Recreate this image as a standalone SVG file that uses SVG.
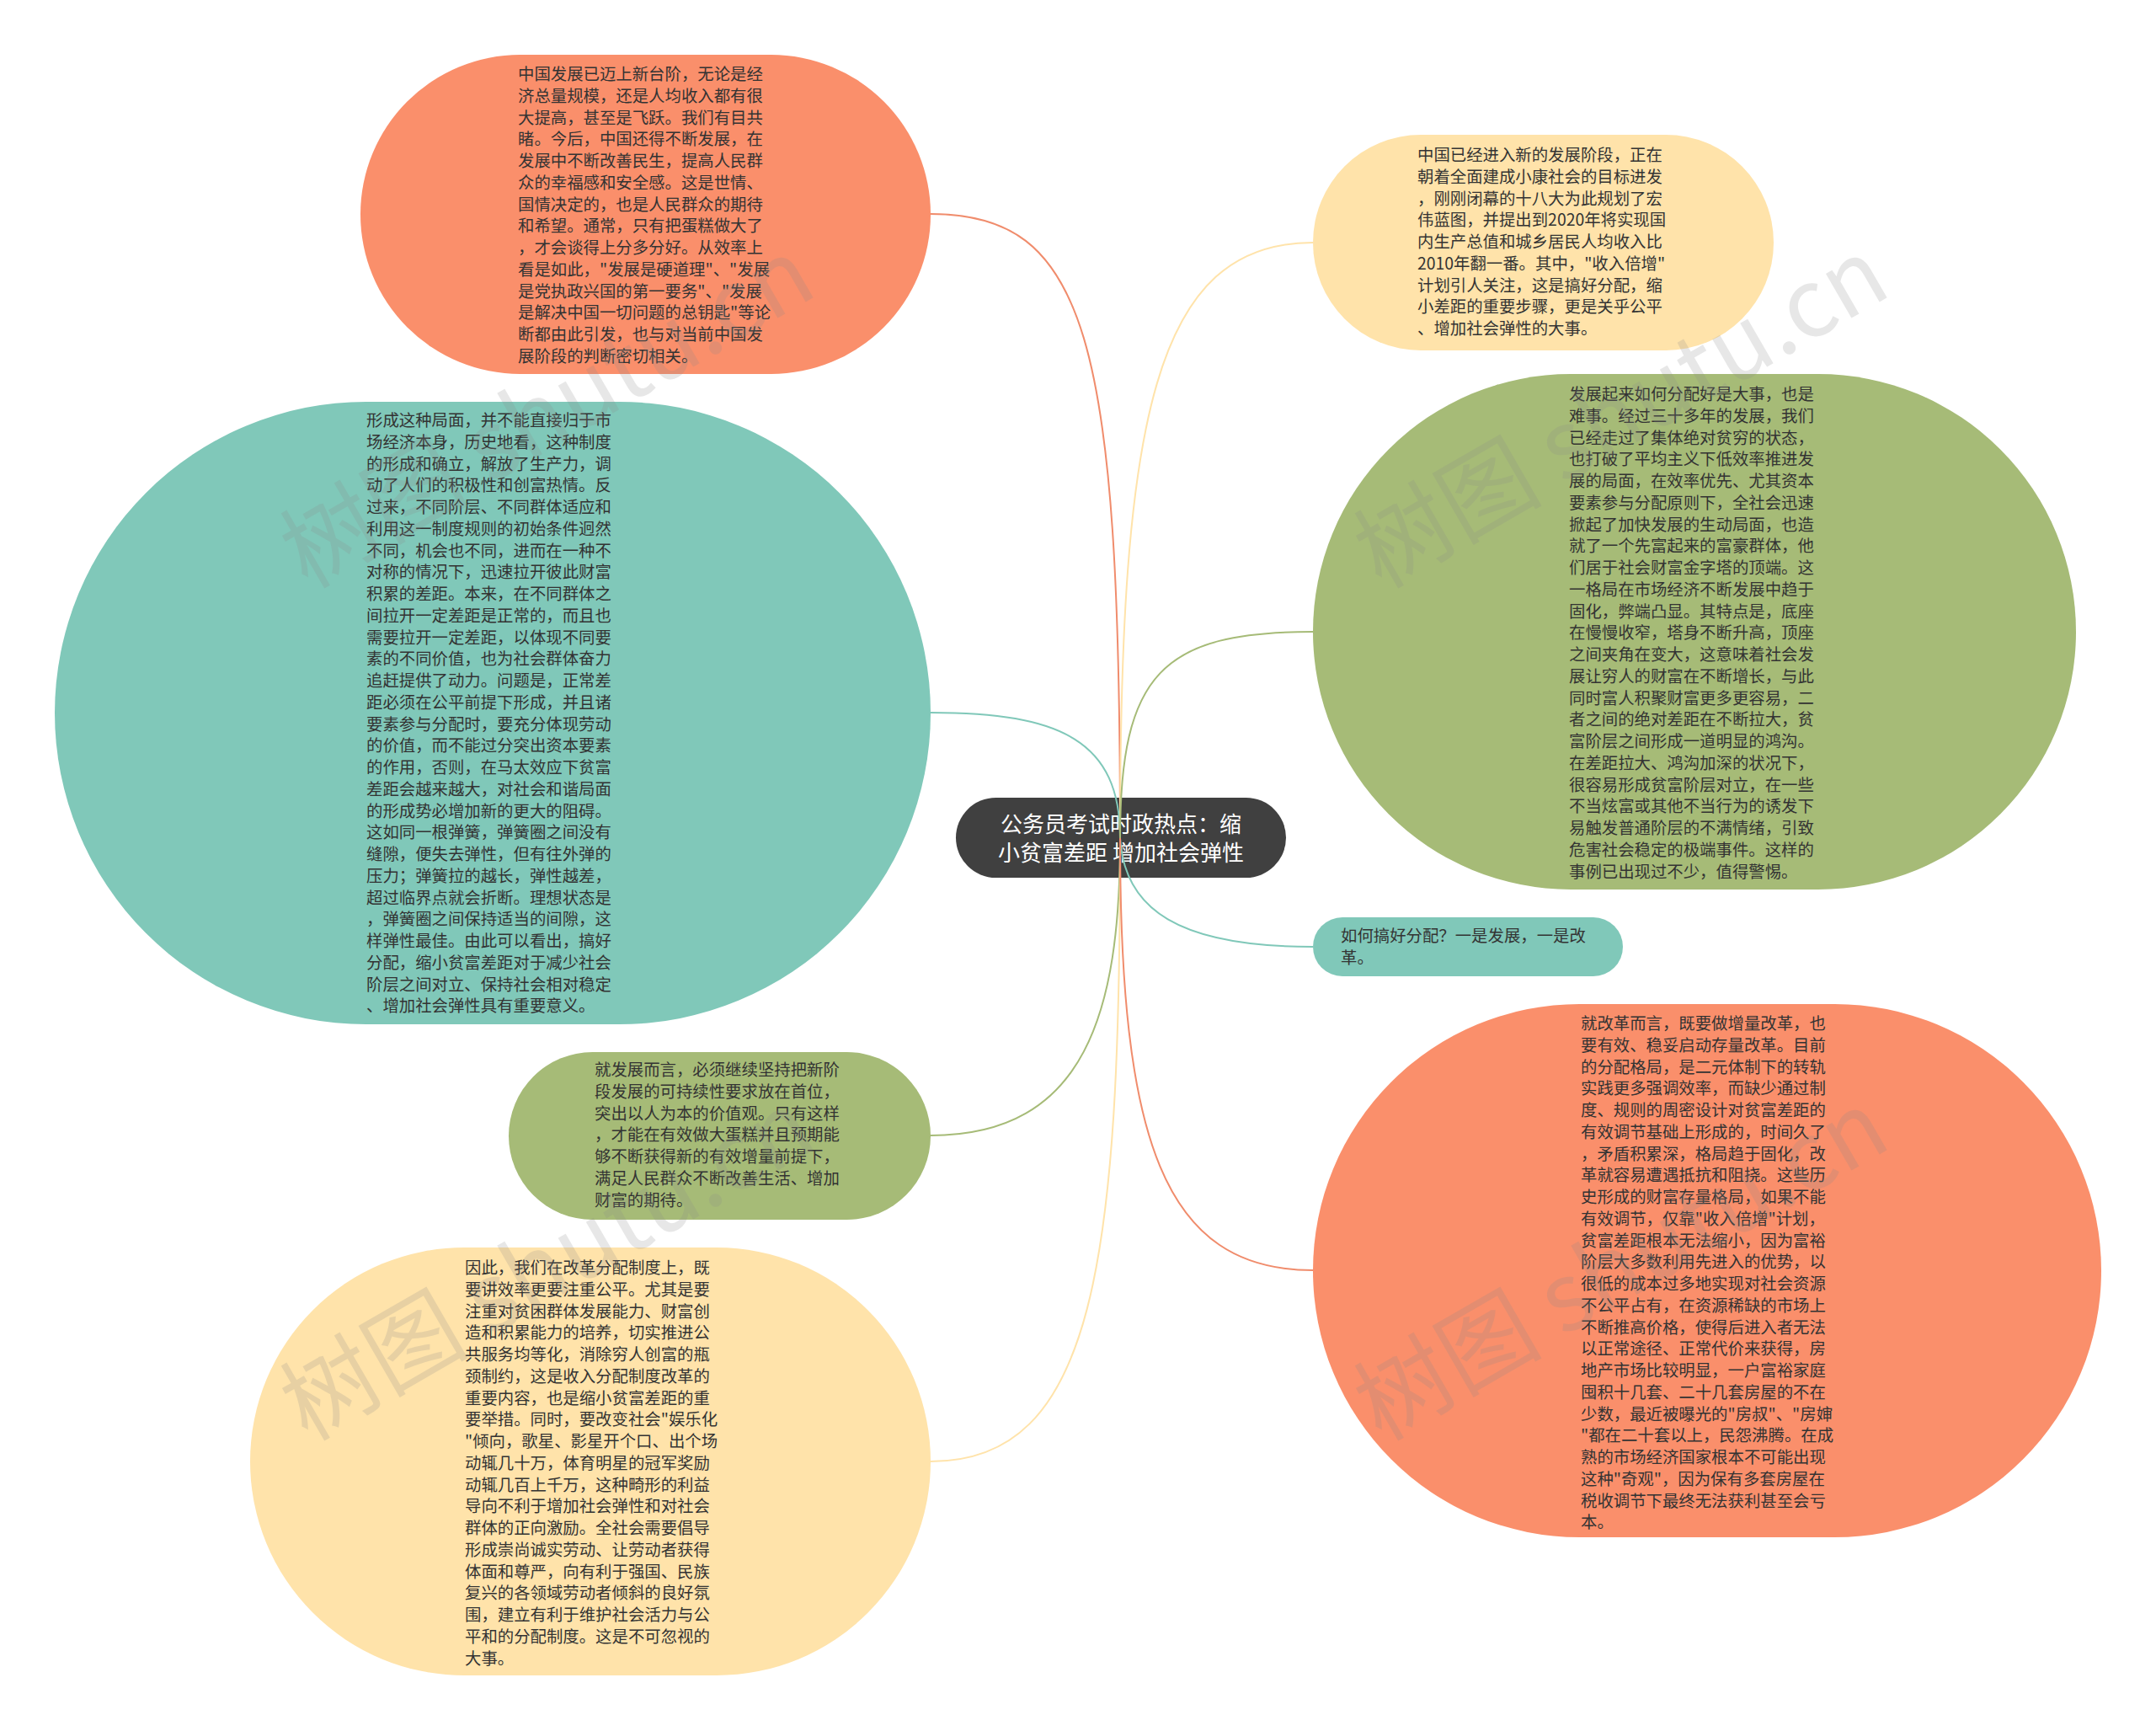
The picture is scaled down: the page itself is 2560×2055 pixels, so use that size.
<svg xmlns="http://www.w3.org/2000/svg" width="2560" height="2055" viewBox="0 0 2560 2055">
<style>
.t{font-family:"Noto Sans CJK SC","Noto Sans",sans-serif;font-size:19.4px;fill:#333333}
.c{font-family:"Noto Sans CJK SC","Noto Sans",sans-serif;font-size:26px;fill:#ffffff;text-anchor:middle}
.or{fill:#FA8F6B}.te{fill:#80C8B9}.gr{fill:#A6BB77}.ye{fill:#FFE3AA}.dk{fill:#404040}
.ln{fill:none;stroke-width:2}
.wm{font-family:"Noto Sans CJK SC","Liberation Serif",serif;font-size:112px;fill:#8a8a8a;opacity:0.2}
</style>
<rect width="2560" height="2055" fill="#ffffff"/>
<g id="node-n1"><rect class="or" x="428" y="65" width="677" height="379" rx="189.5"/>
<text class="t" x="615" y="95"><tspan x="615">中国发展已迈上新台阶，无论是经</tspan><tspan x="615" dy="25.75">济总量规模，还是人均收入都有很</tspan><tspan x="615" dy="25.75">大提高，甚至是飞跃。我们有目共</tspan><tspan x="615" dy="25.75">睹。今后，中国还得不断发展，在</tspan><tspan x="615" dy="25.75">发展中不断改善民生，提高人民群</tspan><tspan x="615" dy="25.75">众的幸福感和安全感。这是世情、</tspan><tspan x="615" dy="25.75">国情决定的，也是人民群众的期待</tspan><tspan x="615" dy="25.75">和希望。通常，只有把蛋糕做大了</tspan><tspan x="615" dy="25.75">，才会谈得上分多分好。从效率上</tspan><tspan x="615" dy="25.75">看是如此，"发展是硬道理"、"发展</tspan><tspan x="615" dy="25.75">是党执政兴国的第一要务"、"发展</tspan><tspan x="615" dy="25.75">是解决中国一切问题的总钥匙"等论</tspan><tspan x="615" dy="25.75">断都由此引发，也与对当前中国发</tspan><tspan x="615" dy="25.75">展阶段的判断密切相关。</tspan></text></g>
<g id="node-n2"><rect class="te" x="65" y="477" width="1040" height="739" rx="369.5"/>
<text class="t" x="435" y="506"><tspan x="435">形成这种局面，并不能直接归于市</tspan><tspan x="435" dy="25.75">场经济本身，历史地看，这种制度</tspan><tspan x="435" dy="25.75">的形成和确立，解放了生产力，调</tspan><tspan x="435" dy="25.75">动了人们的积极性和创富热情。反</tspan><tspan x="435" dy="25.75">过来，不同阶层、不同群体适应和</tspan><tspan x="435" dy="25.75">利用这一制度规则的初始条件迥然</tspan><tspan x="435" dy="25.75">不同，机会也不同，进而在一种不</tspan><tspan x="435" dy="25.75">对称的情况下，迅速拉开彼此财富</tspan><tspan x="435" dy="25.75">积累的差距。本来，在不同群体之</tspan><tspan x="435" dy="25.75">间拉开一定差距是正常的，而且也</tspan><tspan x="435" dy="25.75">需要拉开一定差距，以体现不同要</tspan><tspan x="435" dy="25.75">素的不同价值，也为社会群体奋力</tspan><tspan x="435" dy="25.75">追赶提供了动力。问题是，正常差</tspan><tspan x="435" dy="25.75">距必须在公平前提下形成，并且诸</tspan><tspan x="435" dy="25.75">要素参与分配时，要充分体现劳动</tspan><tspan x="435" dy="25.75">的价值，而不能过分突出资本要素</tspan><tspan x="435" dy="25.75">的作用，否则，在马太效应下贫富</tspan><tspan x="435" dy="25.75">差距会越来越大，对社会和谐局面</tspan><tspan x="435" dy="25.75">的形成势必增加新的更大的阻碍。</tspan><tspan x="435" dy="25.75">这如同一根弹簧，弹簧圈之间没有</tspan><tspan x="435" dy="25.75">缝隙，便失去弹性，但有往外弹的</tspan><tspan x="435" dy="25.75">压力；弹簧拉的越长，弹性越差，</tspan><tspan x="435" dy="25.75">超过临界点就会折断。理想状态是</tspan><tspan x="435" dy="25.75">，弹簧圈之间保持适当的间隙，这</tspan><tspan x="435" dy="25.75">样弹性最佳。由此可以看出，搞好</tspan><tspan x="435" dy="25.75">分配，缩小贫富差距对于减少社会</tspan><tspan x="435" dy="25.75">阶层之间对立、保持社会相对稳定</tspan><tspan x="435" dy="25.75">、增加社会弹性具有重要意义。</tspan></text></g>
<g id="node-n4"><rect class="gr" x="604" y="1249" width="501" height="199" rx="99.5"/>
<text class="t" x="706" y="1277"><tspan x="706">就发展而言，必须继续坚持把新阶</tspan><tspan x="706" dy="25.75">段发展的可持续性要求放在首位，</tspan><tspan x="706" dy="25.75">突出以人为本的价值观。只有这样</tspan><tspan x="706" dy="25.75">，才能在有效做大蛋糕并且预期能</tspan><tspan x="706" dy="25.75">够不断获得新的有效增量前提下，</tspan><tspan x="706" dy="25.75">满足人民群众不断改善生活、增加</tspan><tspan x="706" dy="25.75">财富的期待。</tspan></text></g>
<g id="node-n5"><rect class="ye" x="297" y="1481" width="808" height="508" rx="254"/>
<text class="t" x="552" y="1512"><tspan x="552">因此，我们在改革分配制度上，既</tspan><tspan x="552" dy="25.75">要讲效率更要注重公平。尤其是要</tspan><tspan x="552" dy="25.75">注重对贫困群体发展能力、财富创</tspan><tspan x="552" dy="25.75">造和积累能力的培养，切实推进公</tspan><tspan x="552" dy="25.75">共服务均等化，消除穷人创富的瓶</tspan><tspan x="552" dy="25.75">颈制约，这是收入分配制度改革的</tspan><tspan x="552" dy="25.75">重要内容，也是缩小贫富差距的重</tspan><tspan x="552" dy="25.75">要举措。同时，要改变社会"娱乐化</tspan><tspan x="552" dy="25.75">"倾向，歌星、影星开个口、出个场</tspan><tspan x="552" dy="25.75">动辄几十万，体育明星的冠军奖励</tspan><tspan x="552" dy="25.75">动辄几百上千万，这种畸形的利益</tspan><tspan x="552" dy="25.75">导向不利于增加社会弹性和对社会</tspan><tspan x="552" dy="25.75">群体的正向激励。全社会需要倡导</tspan><tspan x="552" dy="25.75">形成崇尚诚实劳动、让劳动者获得</tspan><tspan x="552" dy="25.75">体面和尊严，向有利于强国、民族</tspan><tspan x="552" dy="25.75">复兴的各领域劳动者倾斜的良好氛</tspan><tspan x="552" dy="25.75">围，建立有利于维护社会活力与公</tspan><tspan x="552" dy="25.75">平和的分配制度。这是不可忽视的</tspan><tspan x="552" dy="25.75">大事。</tspan></text></g>
<g id="node-n6"><rect class="ye" x="1559" y="160" width="547" height="256" rx="128"/>
<text class="t" x="1683" y="191"><tspan x="1683">中国已经进入新的发展阶段，正在</tspan><tspan x="1683" dy="25.75">朝着全面建成小康社会的目标进发</tspan><tspan x="1683" dy="25.75">，刚刚闭幕的十八大为此规划了宏</tspan><tspan x="1683" dy="25.75">伟蓝图，并提出到2020年将实现国</tspan><tspan x="1683" dy="25.75">内生产总值和城乡居民人均收入比</tspan><tspan x="1683" dy="25.75">2010年翻一番。其中，"收入倍增"</tspan><tspan x="1683" dy="25.75">计划引人关注，这是搞好分配，缩</tspan><tspan x="1683" dy="25.75">小差距的重要步骤，更是关乎公平</tspan><tspan x="1683" dy="25.75">、增加社会弹性的大事。</tspan></text></g>
<g id="node-n7"><rect class="gr" x="1559" y="444" width="906" height="612" rx="306"/>
<text class="t" x="1863" y="475"><tspan x="1863">发展起来如何分配好是大事，也是</tspan><tspan x="1863" dy="25.75">难事。经过三十多年的发展，我们</tspan><tspan x="1863" dy="25.75">已经走过了集体绝对贫穷的状态，</tspan><tspan x="1863" dy="25.75">也打破了平均主义下低效率推进发</tspan><tspan x="1863" dy="25.75">展的局面，在效率优先、尤其资本</tspan><tspan x="1863" dy="25.75">要素参与分配原则下，全社会迅速</tspan><tspan x="1863" dy="25.75">掀起了加快发展的生动局面，也造</tspan><tspan x="1863" dy="25.75">就了一个先富起来的富豪群体，他</tspan><tspan x="1863" dy="25.75">们居于社会财富金字塔的顶端。这</tspan><tspan x="1863" dy="25.75">一格局在市场经济不断发展中趋于</tspan><tspan x="1863" dy="25.75">固化，弊端凸显。其特点是，底座</tspan><tspan x="1863" dy="25.75">在慢慢收窄，塔身不断升高，顶座</tspan><tspan x="1863" dy="25.75">之间夹角在变大，这意味着社会发</tspan><tspan x="1863" dy="25.75">展让穷人的财富在不断增长，与此</tspan><tspan x="1863" dy="25.75">同时富人积聚财富更多更容易，二</tspan><tspan x="1863" dy="25.75">者之间的绝对差距在不断拉大，贫</tspan><tspan x="1863" dy="25.75">富阶层之间形成一道明显的鸿沟。</tspan><tspan x="1863" dy="25.75">在差距拉大、鸿沟加深的状况下，</tspan><tspan x="1863" dy="25.75">很容易形成贫富阶层对立，在一些</tspan><tspan x="1863" dy="25.75">不当炫富或其他不当行为的诱发下</tspan><tspan x="1863" dy="25.75">易触发普通阶层的不满情绪，引致</tspan><tspan x="1863" dy="25.75">危害社会稳定的极端事件。这样的</tspan><tspan x="1863" dy="25.75">事例已出现过不少，值得警惕。</tspan></text></g>
<g id="node-n8"><rect class="te" x="1559" y="1089" width="368" height="70" rx="35"/>
<text class="t" x="1592" y="1118"><tspan x="1592">如何搞好分配？一是发展，一是改</tspan><tspan x="1592" dy="25.75">革。</tspan></text></g>
<g id="node-n9"><rect class="or" x="1559" y="1192" width="936" height="633" rx="316.5"/>
<text class="t" x="1877" y="1222"><tspan x="1877">就改革而言，既要做增量改革，也</tspan><tspan x="1877" dy="25.75">要有效、稳妥启动存量改革。目前</tspan><tspan x="1877" dy="25.75">的分配格局，是二元体制下的转轨</tspan><tspan x="1877" dy="25.75">实践更多强调效率，而缺少通过制</tspan><tspan x="1877" dy="25.75">度、规则的周密设计对贫富差距的</tspan><tspan x="1877" dy="25.75">有效调节基础上形成的，时间久了</tspan><tspan x="1877" dy="25.75">，矛盾积累深，格局趋于固化，改</tspan><tspan x="1877" dy="25.75">革就容易遭遇抵抗和阻挠。这些历</tspan><tspan x="1877" dy="25.75">史形成的财富存量格局，如果不能</tspan><tspan x="1877" dy="25.75">有效调节，仅靠"收入倍增"计划，</tspan><tspan x="1877" dy="25.75">贫富差距根本无法缩小，因为富裕</tspan><tspan x="1877" dy="25.75">阶层大多数利用先进入的优势，以</tspan><tspan x="1877" dy="25.75">很低的成本过多地实现对社会资源</tspan><tspan x="1877" dy="25.75">不公平占有，在资源稀缺的市场上</tspan><tspan x="1877" dy="25.75">不断推高价格，使得后进入者无法</tspan><tspan x="1877" dy="25.75">以正常途径、正常代价来获得，房</tspan><tspan x="1877" dy="25.75">地产市场比较明显，一户富裕家庭</tspan><tspan x="1877" dy="25.75">囤积十几套、二十几套房屋的不在</tspan><tspan x="1877" dy="25.75">少数，最近被曝光的"房叔"、"房婶</tspan><tspan x="1877" dy="25.75">"都在二十套以上，民怨沸腾。在成</tspan><tspan x="1877" dy="25.75">熟的市场经济国家根本不可能出现</tspan><tspan x="1877" dy="25.75">这种"奇观"，因为保有多套房屋在</tspan><tspan x="1877" dy="25.75">税收调节下最终无法获利甚至会亏</tspan><tspan x="1877" dy="25.75">本。</tspan></text></g>
<g id="node-center"><rect class="dk" x="1135" y="947" width="392" height="95" rx="47.5"/>
<text class="c" x="1331" y="988"><tspan x="1331">公务员考试时政热点：缩</tspan><tspan x="1331" dy="34">小贫富差距 增加社会弹性</tspan></text></g>
<g id="connectors">
<path class="ln" stroke="#F08C6C" d="M1330,995 C1330,400 1290,254 1105,254"/>
<path class="ln" stroke="#80C8B9" d="M1330,995 C1330,880 1260,846 1105,846"/>
<path class="ln" stroke="#A6BB77" d="M1330,995 C1330,1200 1290,1348 1105,1348"/>
<path class="ln" stroke="#FFE3AA" d="M1330,995 C1330,1500 1300,1735 1105,1735"/>
<path class="ln" stroke="#FFE3AA" d="M1330,995 C1330,500 1370,288 1559,288"/>
<path class="ln" stroke="#A6BB77" d="M1330,995 C1330,800 1380,750 1559,750"/>
<path class="ln" stroke="#80C8B9" d="M1330,995 C1335,1080 1400,1124 1559,1124"/>
<path class="ln" stroke="#F08C6C" d="M1330,995 C1330,1350 1380,1508 1559,1508"/>
</g>
<g id="watermarks">
<text class="wm" transform="translate(365,700) rotate(-30)">树图 shutu.cn</text>
<text class="wm" transform="translate(1640,700) rotate(-30)">树图 shutu.cn</text>
<text class="wm" transform="translate(365,1712) rotate(-30)">树图 shutu.cn</text>
<text class="wm" transform="translate(1640,1712) rotate(-30)">树图 shutu.cn</text>
</g>
</svg>
